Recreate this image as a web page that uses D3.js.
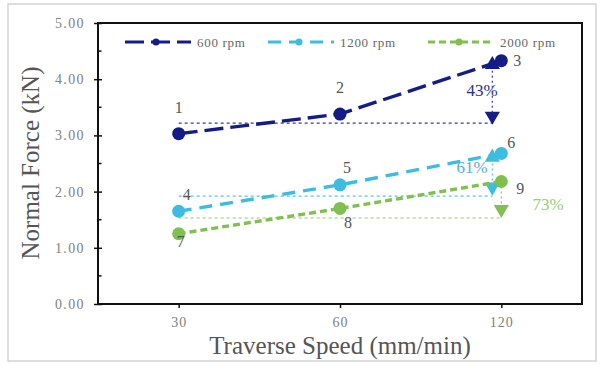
<!DOCTYPE html>
<html>
<head>
<meta charset="utf-8">
<script src="https://cdn.jsdelivr.net/npm/d3@7/dist/d3.min.js"></script>
<style>
  html, body { margin: 0; padding: 0; background: #fff; }
  svg { display: block; }
  text { font-family: "Liberation Serif", "Times New Roman", serif; }
</style>
</head>
<body>
<svg id="chart" width="601" height="365"></svg>
<script>
// Traverse speeds (mm/min), plotted as evenly spaced categories
const speeds = [30, 60, 120];
const yTicks = [0, 1, 2, 3, 4, 5];

// Normal force (kN) for each spindle speed
const force600 = [3.03, 3.38, 4.33];
const force1200 = [1.65, 2.12, 2.68];
const force2000 = [1.25, 1.70, 2.18];

const seriesNames = ["600 rpm", "1200 rpm", "2000 rpm"];
const seriesValues = [force600, force1200, force2000];
const pointLabels = [["1", "2", "3"], ["4", "5", "6"], ["7", "8", "9"]];

// Increase from 30 to 120 mm/min for each series
const increaseLabels = ["43%", "61%", "73%"];
const baselineLevels = [3.22, 1.92, 1.53];
const arrowBottoms = [3.38, 2.12, 1.72];

const colors = ["#141c85", "#3cbde0", "#80c050"];
const dashes = ["19,7", "13,8", "7,4"];

const svg = d3.select("#chart");

// outer frame
svg.append("rect").attr("x", 8).attr("y", 4).attr("width", 588).attr("height", 357)
  .attr("fill", "none").attr("stroke", "#d4d4d4").attr("stroke-width", 1.5);

const plotLeft = 98, plotRight = 582, plotTop = 23, plotBottom = 304;

const x = d3.scalePoint().domain(speeds).range([plotLeft, plotRight]).padding(0.5);
const y = d3.scaleLinear().domain([0, 5]).range([plotBottom, plotTop]);

// Y axis: major ticks crossing the axis, minor ticks inside
const yAxis = svg.append("g").attr("transform", `translate(${plotLeft},0)`)
  .call(d3.axisLeft(y).tickValues(yTicks).tickFormat(d3.format(".2f")).tickSize(5).tickPadding(8));
yAxis.select(".domain").remove();
yAxis.selectAll(".tick line").attr("x2", -4).attr("x1", 4).attr("stroke", "#111").attr("stroke-width", 1.5);
yAxis.selectAll(".tick text").attr("fill", "#808080").attr("font-size", 14).attr("letter-spacing", 1.4)
  .attr("font-family", "Liberation Serif, serif");
svg.append("g").selectAll("line").data([0.5, 1.5, 2.5, 3.5, 4.5]).join("line")
  .attr("x1", plotLeft).attr("x2", plotLeft + 3.5).attr("y1", d => y(d)).attr("y2", d => y(d))
  .attr("stroke", "#111").attr("stroke-width", 1.5);

// X axis
const xAxis = svg.append("g").attr("transform", `translate(0,${plotBottom})`)
  .call(d3.axisBottom(x).tickSize(4).tickPadding(9));
xAxis.select(".domain").remove();
xAxis.selectAll(".tick line").attr("stroke", "#111").attr("stroke-width", 1.5);
xAxis.selectAll(".tick text").attr("fill", "#808080").attr("font-size", 14).attr("letter-spacing", 1)
  .attr("font-family", "Liberation Serif, serif");

// plot frame
svg.append("rect").attr("x", plotLeft).attr("y", plotTop)
  .attr("width", plotRight - plotLeft).attr("height", plotBottom - plotTop)
  .attr("fill", "none").attr("stroke", "#111").attr("stroke-width", 2);

// axis titles
svg.append("text").attr("x", 340).attr("y", 354).attr("text-anchor", "middle")
  .attr("font-size", 25).attr("fill", "#555").text("Traverse Speed (mm/min)");
svg.append("text").attr("transform", "translate(39,163) rotate(-90)").attr("text-anchor", "middle")
  .attr("font-size", 25).attr("fill", "#555").text("Normal Force (kN)");

const tri = d3.symbol().type(d3.symbolTriangle).size(100);
const g = svg.append("g");

// baselines and percentage arrows
seriesValues.forEach((vals, i) => {
  const xa = x(120) + (i === 2 ? 0 : -9);
  g.append("line").attr("x1", x(30)).attr("x2", xa).attr("y1", y(baselineLevels[i])).attr("y2", y(baselineLevels[i]))
    .attr("stroke", colors[i]).attr("stroke-width", 1.2).attr("stroke-dasharray", "3,3").attr("opacity", 0.85);
  g.append("line").attr("x1", xa).attr("x2", xa).attr("y1", y(vals[2])).attr("y2", y(arrowBottoms[i]))
    .attr("stroke", colors[i]).attr("stroke-width", 1.2).attr("stroke-dasharray", "2,3").attr("opacity", 0.85);
  g.append("path").attr("d", tri)
    .attr("transform", `translate(${xa},${y(arrowBottoms[i]) + 2}) rotate(180)`)
    .attr("fill", colors[i]);
  if (i < 2) {
    g.append("path").attr("d", tri)
      .attr("transform", `translate(${xa},${y(vals[2]) + 4})`)
      .attr("fill", colors[i]);
  }
});

// series lines and markers
const line = d3.line().x((d, j) => x(speeds[j])).y(d => y(d));
seriesValues.forEach((vals, i) => {
  g.append("path").datum(vals).attr("d", line).attr("fill", "none")
    .attr("stroke", colors[i]).attr("stroke-width", 3.4).attr("stroke-dasharray", dashes[i]);
  g.selectAll(null).data(vals).join("circle")
    .attr("cx", (d, j) => x(speeds[j])).attr("cy", d => y(d)).attr("r", 6.5)
    .attr("fill", colors[i]);
});

// point numbers
const labelOffsets = [
  [[0, -21], [0, -21], [16, 5]],
  [[8, -11], [7, -12], [10, -5]],
  [[2, 13], [8, 20], [19, 13]]
];
seriesValues.forEach((vals, i) => {
  vals.forEach((v, j) => {
    g.append("text").attr("x", x(speeds[j]) + labelOffsets[i][j][0]).attr("y", y(v) + labelOffsets[i][j][1])
      .attr("text-anchor", "middle").attr("font-size", 16).attr("fill", "#555").text(pointLabels[i][j]);
  });
});

// percentage labels
const pctPos = [[482, 96], [472, 173], [548, 210]];
const pctColors = ["#2a3288", "#5aaed0", "#9acb70"];
increaseLabels.forEach((t, i) => {
  g.append("text").attr("x", pctPos[i][0]).attr("y", pctPos[i][1]).attr("text-anchor", "middle")
    .attr("font-size", 17).attr("fill", pctColors[i]).text(t);
});

// legend
const legendX = [125, 268, 428];
const legend = svg.append("g");
seriesNames.forEach((name, i) => {
  const x0 = legendX[i];
  legend.append("line").attr("x1", x0).attr("x2", x0 + 66).attr("y1", 42).attr("y2", 42)
    .attr("stroke", colors[i]).attr("stroke-width", 3).attr("stroke-dasharray", dashes[i]);
  legend.append("circle").attr("cx", x0 + 31).attr("cy", 42).attr("r", 3.5).attr("fill", colors[i]);
  legend.append("text").attr("x", x0 + 72).attr("y", 46.5).attr("font-size", 13).attr("letter-spacing", 0.7)
    .attr("fill", "#666").text(name);
});
</script>
</body>
</html>
